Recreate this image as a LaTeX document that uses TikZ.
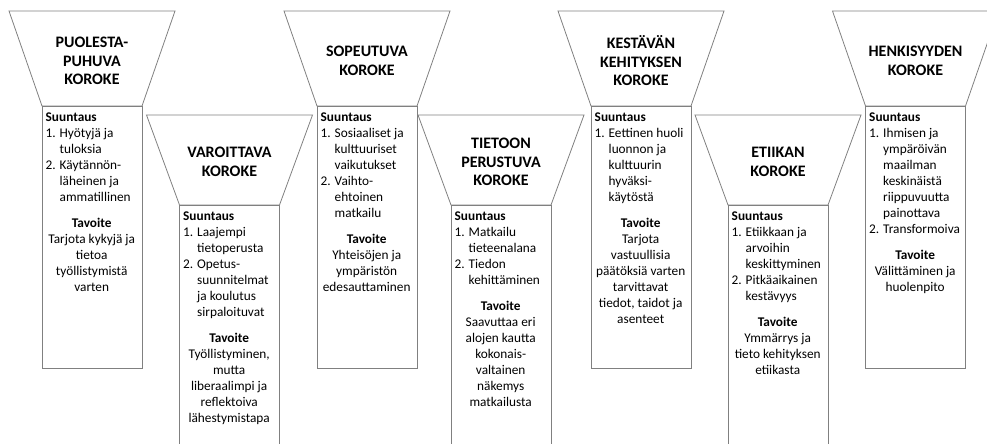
\documentclass[tikz,border=0pt]{standalone}
\usepackage{fontspec}
\setmainfont{Carlito}
\newcommand\ctr[1]{\makebox[92pt][c]{#1}}
\newcommand\itemno[2]{\makebox[14pt][l]{#1}#2}
\newcommand\hng[1]{\hspace*{14pt}#1}
\newcommand\trap[3]{% cx, top y, bottom y
  \draw[edge] (#1-83,#2) -- (#1+83,#2) -- (#1+50,#3) -- (#1-50,#3) -- cycle;}
\tikzset{
  edge/.style={draw=black!50, line width=0.8pt, line join=miter},
  title/.style={font=\fontsize{16}{18.5}\selectfont\bfseries, align=center, inner sep=0pt},
  body/.style={font=\fontsize{13.3}{16}\selectfont, align=left, inner sep=0pt, anchor=north west}
}
\begin{document}
\begin{tikzpicture}[x=1pt,y=-1pt]
\useasboundingbox (0,0) rectangle (987,444);
% ---------- 1 ----------
\trap{92}{11}{106}
\draw[edge] (42,106) rectangle (142,368);
\node[title] (t1) at (92,61) {PUOLESTA-\\PUHUVA\\KOROKE};
\node[body] (b1) at (45.5,112.5) {\textbf{Suuntaus}\\
\itemno{1.}{Hyötyjä ja}\\ \hng{tuloksia}\\
\itemno{2.}{Käytännön-}\\ \hng{läheinen ja}\\ \hng{ammatillinen}\\[10pt]
\ctr{\textbf{Tavoite}}\\ \ctr{Tarjota kykyjä ja}\\ \ctr{tietoa}\\ \ctr{työllistymistä}\\ \ctr{varten}};
% ---------- 2 ----------
\trap{229.5}{115}{205}
\draw[edge] (179.5,446) -- (179.5,205) -- (279.5,205) -- (279.5,446);
\node[title] (t2) at (229.5,162) {VAROITTAVA\\KOROKE};
\node[body] (b2) at (183,211.5) {\textbf{Suuntaus}\\
\itemno{1.}{Laajempi}\\ \hng{tietoperusta}\\
\itemno{2.}{Opetus-}\\ \hng{suunnitelmat}\\ \hng{ja koulutus}\\ \hng{sirpaloituvat}\\[10pt]
\ctr{\textbf{Tavoite}}\\ \ctr{Työllistyminen,}\\ \ctr{mutta}\\ \ctr{liberaalimpi ja}\\ \ctr{reflektoiva}\\ \ctr{lähestymistapa}};
% ---------- 3 ----------
\trap{367}{11}{106}
\draw[edge] (317,106) rectangle (417,368);
\node[title] (t3) at (367,61) {SOPEUTUVA\\KOROKE};
\node[body] (b3) at (320.5,112.5) {\textbf{Suuntaus}\\
\itemno{1.}{Sosiaaliset ja}\\ \hng{kulttuuriset}\\ \hng{vaikutukset}\\
\itemno{2.}{Vaihto-}\\ \hng{ehtoinen}\\ \hng{matkailu}\\[10pt]
\ctr{\textbf{Tavoite}}\\ \ctr{Yhteisöjen ja}\\ \ctr{ympäristön}\\ \ctr{edesauttaminen}};
% ---------- 4 ----------
\trap{501}{115}{205}
\draw[edge] (451,446) -- (451,205) -- (551,205) -- (551,446);
\node[title] (t4) at (501,162) {TIETOON\\PERUSTUVA\\KOROKE};
\node[body] (b4) at (454.5,211.5) {\textbf{Suuntaus}\\
\itemno{1.}{Matkailu}\\ \hng{tieteenalana}\\
\itemno{2.}{Tiedon}\\ \hng{kehittäminen}\\[10pt]
\ctr{\textbf{Tavoite}}\\ \ctr{Saavuttaa eri}\\ \ctr{alojen kautta}\\ \ctr{kokonais-}\\ \ctr{valtainen}\\ \ctr{näkemys}\\ \ctr{matkailusta}};
% ---------- 5 ----------
\trap{641}{11}{106}
\draw[edge] (591,106) rectangle (691,368);
\node[title] (t5) at (641,61) {KESTÄVÄN\\KEHITYKSEN\\KOROKE};
\node[body] (b5) at (594.5,112.5) {\textbf{Suuntaus}\\
\itemno{1.}{Eettinen huoli}\\ \hng{luonnon ja}\\ \hng{kulttuurin}\\ \hng{hyväksi-}\\ \hng{käytöstä}\\[10pt]
\ctr{\textbf{Tavoite}}\\ \ctr{Tarjota}\\ \ctr{vastuullisia}\\ \ctr{päätöksiä varten}\\ \ctr{tarvittavat}\\ \ctr{tiedot, taidot ja}\\ \ctr{asenteet}};
% ---------- 6 ----------
\trap{778}{115}{205}
\draw[edge] (728,446) -- (728,205) -- (828,205) -- (828,446);
\node[title] (t6) at (778,162) {ETIIKAN\\KOROKE};
\node[body] (b6) at (731.5,211.5) {\textbf{Suuntaus}\\
\itemno{1.}{Etiikkaan ja}\\ \hng{arvoihin}\\ \hng{keskittyminen}\\
\itemno{2.}{Pitkäaikainen}\\ \hng{kestävyys}\\[10pt]
\ctr{\textbf{Tavoite}}\\ \ctr{Ymmärrys ja}\\ \ctr{tieto kehityksen}\\ \ctr{etiikasta}};
% ---------- 7 ----------
\trap{915.5}{11}{106}
\draw[edge] (865.5,106) rectangle (965.5,368);
\node[title] (t7) at (915.5,61) {HENKISYYDEN\\KOROKE};
\node[body] (b7) at (869,112.5) {\textbf{Suuntaus}\\
\itemno{1.}{Ihmisen ja}\\ \hng{ympäröivän}\\ \hng{maailman}\\ \hng{keskinäistä}\\ \hng{riippuvuutta}\\ \hng{painottava}\\
\itemno{2.}{Transformoiva}\\[10pt]
\ctr{\textbf{Tavoite}}\\ \ctr{Välittäminen ja}\\ \ctr{huolenpito}};
\end{tikzpicture}
\end{document}
